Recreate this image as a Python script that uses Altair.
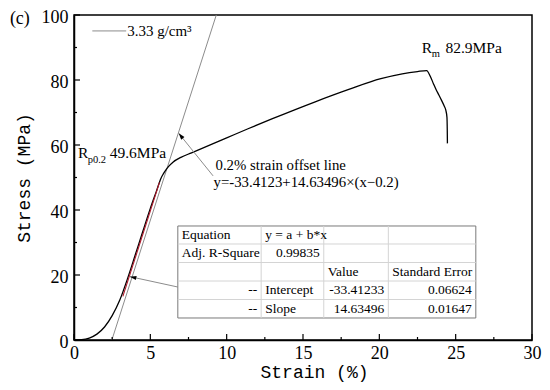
import math
import altair as alt
import pandas as pd

# ---------------- data ----------------
strain = [0.0, 0.5, 1.0, 1.5, 2.0, 2.5, 3.0, 3.5, 4.0, 4.5, 5.0, 5.4, 5.7, 5.85,
          6.0, 6.2, 6.5, 7.0, 7.7, 9.0, 10.0, 11.4, 13.0, 15.8, 18.0, 20.1,
          21.5, 22.5, 23.1, 23.35, 23.55, 23.73, 23.9, 24.1, 24.25, 24.35,
          24.43, 24.45, 24.46]
stress = [0.0, 0.1, 0.6, 1.8, 4.0, 7.5, 12.3, 18.8, 26.0, 33.3, 40.5, 45.8, 49.8, 51.1,
          52.2, 53.4, 54.8, 56.2, 57.6, 60.2, 62.2, 65.0, 68.1, 73.3, 77.1, 80.4,
          81.9, 82.6, 82.9, 81.0, 78.8, 76.9, 75.4, 73.5, 72.0, 70.8,
          68.5, 64.5, 60.5]

offset_strain = [2.48, 9.32]      # 0.2% strain offset line
offset_stress = [0.0, 100.0]
fit_strain = [3.2, 5.6]           # linear fit segment (red)
fit_stress = [13.4, 48.5]

x_major = [0, 5, 10, 15, 20, 25, 30]
x_minor = [2.5, 7.5, 12.5, 17.5, 22.5, 27.5]
y_major = [0, 20, 40, 60, 80, 100]
y_minor = [10, 30, 50, 70, 90]

panel_label = "(c)"
legend_label = "3.33 g/cm³"
rm_parts = ["R", "m", "82.9MPa"]
rp_parts = ["R", "p0.2", "49.6MPa"]
offset_lines = ["0.2% strain offset line", "y=-33.4123+14.63496×(x−0.2)"]

table_rows = [
    ["Equation", "y = a + b*x", "", ""],
    ["Adj. R-Square", "0.99835", "", ""],
    ["", "", "Value", "Standard Error"],
    ["--", "Intercept", "-33.41233", "0.06624"],
    ["--", "Slope", "14.63496", "0.01647"],
]

# ---------------- layout ----------------
W, H = 458, 325
XD = [0, 30]
YD = [0, 100]
PX = W / (XD[1] - XD[0])
PY = H / (YD[1] - YD[0])
SERIF = "Liberation Serif"
MONO = "Liberation Mono"

xs = alt.Scale(domain=XD, nice=False, zero=False)
ys = alt.Scale(domain=YD, nice=False, zero=False)

x_axis = alt.Axis(values=x_major, ticks=False, tickSize=0, grid=False,
                  labelFont=SERIF, labelFontSize=18, labelColor="black",
                  labelPadding=4, labelFlush=False,
                  titleFont=MONO, titleFontSize=18, titleFontWeight="normal",
                  titleColor="black", titlePadding=1, titleX=W / 2 + 11,
                  domainColor="black", domainWidth=1.5)
y_axis = alt.Axis(values=y_major, ticks=False, tickSize=0, grid=False,
                  labelFont=SERIF, labelFontSize=18, labelColor="black",
                  labelPadding=6, labelFlush=False, labelOffset=2,
                  titleFont=MONO, titleFontSize=18, titleFontWeight="normal",
                  titleColor="black", titlePadding=8,
                  domainColor="black", domainWidth=1.5)


def X(field="x"):
    return alt.X(f"{field}:Q", scale=xs, axis=x_axis, title="Strain (%)")


def Y(field="y"):
    return alt.Y(f"{field}:Q", scale=ys, axis=y_axis, title="Stress (MPa)")


# main curve
curve_df = pd.DataFrame({"x": strain, "y": stress, "i": range(len(strain))})
curve = alt.Chart(curve_df).mark_line(color="black", strokeWidth=1.3, interpolate="monotone").encode(
    x=X(), y=Y(), order="i:Q")

offset_line = alt.Chart(pd.DataFrame({"x": offset_strain, "y": offset_stress})).mark_line(
    color="#8c8c8c", strokeWidth=1).encode(x=X(), y=Y())
fit_line = alt.Chart(pd.DataFrame({"x": fit_strain, "y": fit_stress})).mark_line(
    color="#b0182a", strokeWidth=1.1).encode(x=X(), y=Y())


# inward ticks
def xticks(vals, length):
    return alt.Chart(pd.DataFrame({"x": vals})).mark_rule(color="black", strokeWidth=1.2).encode(
        x=X(), y=alt.value(H), y2=alt.value(H - length))


def yticks(vals, length):
    return alt.Chart(pd.DataFrame({"y": vals})).mark_rule(color="black", strokeWidth=1.2).encode(
        y=Y(), x=alt.value(0), x2=alt.value(length))


ticks = [xticks(x_major, 6), xticks(x_minor, 3), yticks(y_major, 6), yticks(y_minor, 3)]


# text helper
def texts(xv, yv, labels, size, align="left", baseline="alphabetic", font=SERIF):
    df = pd.DataFrame({"x": xv, "y": yv, "t": labels})
    return alt.Chart(df).mark_text(font=font, fontSize=size, align=align, baseline=baseline,
                                   color="black").encode(x=X(), y=Y(), text="t:N")


annotations = [
    texts([-4.2], [97.2], [panel_label], 18),
    texts([3.48], [93.6], [legend_label], 15),
    texts([22.78, 24.33], [88.3, 88.3], [rm_parts[0], rm_parts[2]], 15.5),
    texts([23.43], [87.0], [rm_parts[1]], 10.5),
    texts([0.26, 2.34], [56.0, 56.0], [rp_parts[0], rp_parts[2]], 15.5),
    texts([0.9], [54.6], [rp_parts[1]], 10.5),
    texts([9.27], [52.3], [offset_lines[0]], 14.8),
    texts([9.14], [47.2], [offset_lines[1]], 14.8),
]

legend_line = alt.Chart(pd.DataFrame({"x": [1.2], "x2": [3.42], "y": [95.1]})).mark_rule(
    color="#8c8c8c", strokeWidth=1).encode(x=X(), x2="x2:Q", y=Y())

# arrows: tail -> head
arrow_tail = [(9.11, 50.5), (6.80, 16.3)]
arrow_head = [(6.86, 63.6), (3.66, 19.5)]
arr_df = pd.DataFrame({
    "x": [t[0] for t in arrow_tail], "y": [t[1] for t in arrow_tail],
    "x2": [h[0] for h in arrow_head], "y2": [h[1] for h in arrow_head],
})
arr_df["ang"] = [
    (math.degrees(math.atan2((h[0] - t[0]) * PX, (h[1] - t[1]) * PY)) + 360) % 360
    for t, h in zip(arrow_tail, arrow_head)
]
arrow_lines = alt.Chart(arr_df).mark_rule(color="#8c8c8c", strokeWidth=1).encode(
    x=X(), y=Y(), x2="x2:Q", y2="y2:Q")
arrow_heads = alt.Chart(arr_df).mark_point(
    shape="M0,0L0.32,1L-0.32,1Z", filled=True, color="black", size=170, opacity=1).encode(
    x=X("x2"), y=Y("y2"), angle=alt.Angle("ang:Q", scale=None))

# table
col_edges = [6.80, 12.26, 16.36, 20.59, 26.32]
row_edges = [35.08, 29.54, 23.85, 18.15, 12.46, 6.77]
pad = 4 / PX


def is_num(s):
    if s == "--":
        return True
    try:
        float(s)
        return True
    except ValueError:
        return False


cells_l, cells_r = [], []
for i, row in enumerate(table_rows):
    yc = (row_edges[i] + row_edges[i + 1]) / 2
    for j, txt in enumerate(row):
        if not txt:
            continue
        if is_num(txt):
            cells_r.append((col_edges[j + 1] - pad, yc, txt))
        else:
            cells_l.append((col_edges[j] + pad, yc, txt))

table_bg = alt.Chart(pd.DataFrame({"x": [col_edges[0]], "x2": [col_edges[-1]],
                                   "y": [row_edges[0]], "y2": [row_edges[-1]]})).mark_rect(
    fill="white", stroke="#7a7a7a", strokeWidth=1).encode(x=X(), x2="x2:Q", y=Y(), y2="y2:Q")
hlines = alt.Chart(pd.DataFrame({"y": row_edges[1:-1], "x": col_edges[0], "x2": col_edges[-1]})).mark_rule(
    color="#d4d4d4", strokeWidth=1).encode(x=X(), x2="x2:Q", y=Y())
vlines = alt.Chart(pd.DataFrame({"x": col_edges[1:-1], "y": row_edges[0], "y2": row_edges[-1]})).mark_rule(
    color="#d4d4d4", strokeWidth=1).encode(x=X(), y=Y(), y2="y2:Q")
tbl_left = texts([c[0] for c in cells_l], [c[1] for c in cells_l], [c[2] for c in cells_l], 13.5,
                 align="left", baseline="middle")
tbl_right = texts([c[0] for c in cells_r], [c[1] for c in cells_r], [c[2] for c in cells_r], 13.5,
                  align="right", baseline="middle")

chart = alt.layer(
    offset_line, curve, fit_line, legend_line, arrow_lines, arrow_heads,
    table_bg, hlines, vlines, tbl_left, tbl_right,
    *ticks, *annotations,
).properties(
    width=W, height=H,
    autosize=alt.AutoSizeParams(type="none"),
    padding={"left": 66, "top": 7, "right": 10, "bottom": 42},
).configure_view(stroke="black", strokeWidth=1.5)

chart.save("out.html", embed_options={"renderer": "svg", "actions": False})
